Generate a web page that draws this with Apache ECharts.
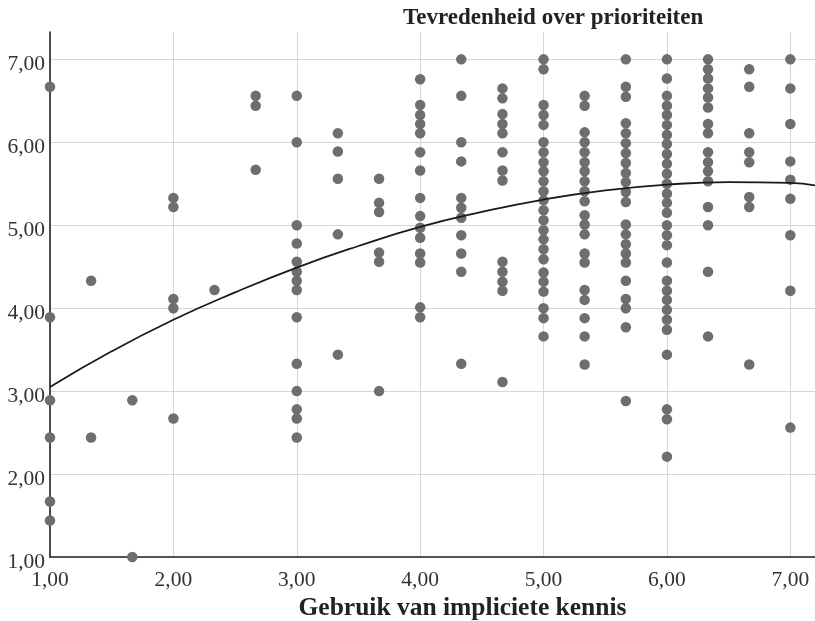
<!DOCTYPE html>
<html><head><meta charset="utf-8">
<script src="https://cdn.jsdelivr.net/npm/echarts@6/dist/echarts.min.js"></script>
<style>html,body{margin:0;padding:0;background:#fff}#c{width:815px;height:621px}</style>
</head><body><div id="c"></div>
<script>
const chartTitle = 'Tevredenheid over prioriteiten';
const xAxisTitle = 'Gebruik van impliciete kennis';
const xTickValues = [1, 2, 3, 4, 5, 6, 7];
const xTickLabels = ['1,00', '2,00', '3,00', '4,00', '5,00', '6,00', '7,00'];
const yTickValues = [1, 2, 3, 4, 5, 6, 7];
const yTickLabels = ['1,00', '2,00', '3,00', '4,00', '5,00', '6,00', '7,00'];

// x positions of the point columns
const columnX = [1, 1.333, 1.667, 2, 2.333, 2.667, 3, 3.333, 3.667, 4, 4.333, 4.667, 5, 5.333, 5.667, 6, 6.333, 6.667, 7];
// y values per column
const yAtX1_00 = [6.67, 3.89, 2.89, 2.44, 1.67, 1.44];
const yAtX1_33 = [4.33, 2.44];
const yAtX1_67 = [2.89, 1.00];
const yAtX2_00 = [5.33, 5.22, 4.11, 4.00, 2.67];
const yAtX2_33 = [4.22];
const yAtX2_67 = [6.56, 6.44, 5.67];
const yAtX3_00 = [6.56, 6.00, 5.00, 4.78, 4.56, 4.44, 4.33, 4.22, 3.89, 3.33, 3.00, 2.78, 2.67, 2.44];
const yAtX3_33 = [6.11, 5.89, 5.56, 4.89, 3.44];
const yAtX3_67 = [5.56, 5.27, 5.16, 4.67, 4.56, 3.00];
const yAtX4_00 = [6.76, 6.45, 6.33, 6.22, 6.11, 5.88, 5.66, 5.33, 5.11, 4.97, 4.85, 4.66, 4.55, 4.01, 3.89];
const yAtX4_33 = [7.00, 6.56, 6.00, 5.77, 5.33, 5.21, 5.09, 4.88, 4.66, 4.44, 3.33];
const yAtX4_67 = [6.65, 6.53, 6.34, 6.22, 6.11, 5.88, 5.66, 5.54, 4.56, 4.44, 4.32, 4.21, 3.11];
const yAtX5_00 = [7.00, 6.88, 6.45, 6.33, 6.21, 6.00, 5.88, 5.76, 5.65, 5.53, 5.41, 5.30, 5.18, 5.06, 4.94, 4.83, 4.71, 4.59, 4.43, 4.32, 4.20, 4.00, 3.88, 3.66];
const yAtX5_33 = [6.56, 6.44, 6.12, 6.00, 5.88, 5.76, 5.65, 5.53, 5.41, 5.29, 5.12, 5.01, 4.89, 4.66, 4.55, 4.22, 4.10, 3.88, 3.66, 3.32];
const yAtX5_67 = [7.00, 6.67, 6.55, 6.23, 6.11, 5.99, 5.87, 5.75, 5.63, 5.52, 5.40, 5.28, 5.01, 4.89, 4.77, 4.66, 4.55, 4.33, 4.11, 4.00, 3.77, 2.88];
const yAtX6_00 = [7.00, 6.77, 6.56, 6.44, 6.33, 6.21, 6.09, 5.98, 5.86, 5.74, 5.62, 5.50, 5.38, 5.27, 5.15, 5.00, 4.88, 4.76, 4.55, 4.33, 4.21, 4.10, 3.98, 3.86, 3.74, 3.44, 2.78, 2.66, 2.21];
const yAtX6_33 = [7.00, 6.88, 6.77, 6.65, 6.54, 6.42, 6.22, 6.11, 5.88, 5.76, 5.65, 5.53, 5.22, 5.00, 4.44, 3.66];
const yAtX6_67 = [6.88, 6.67, 6.11, 5.88, 5.76, 5.34, 5.22, 3.32];
const yAtX7_00 = [7.00, 6.65, 6.22, 5.77, 5.55, 5.32, 4.88, 4.21, 2.56];

// fitted curve
const fitX = [1, 1.5, 2, 2.5, 3, 3.5, 4, 4.5, 5, 5.5, 6, 6.5, 7, 7.2];
const fitY = [3.05, 3.48, 3.86, 4.19, 4.49, 4.75, 4.98, 5.16, 5.31, 5.42, 5.49, 5.52, 5.51, 5.48];

const columns = [yAtX1_00, yAtX1_33, yAtX1_67, yAtX2_00, yAtX2_33, yAtX2_67, yAtX3_00, yAtX3_33, yAtX3_67,
  yAtX4_00, yAtX4_33, yAtX4_67, yAtX5_00, yAtX5_33, yAtX5_67, yAtX6_00, yAtX6_33, yAtX6_67, yAtX7_00];
const points = [];
columns.forEach((col, i) => col.forEach(v => points.push([columnX[i], v])));
const fitLine = fitX.map((x, i) => [x, fitY[i]]);

const serif = '"Liberation Serif", "DejaVu Serif", serif';
function lab(values, labels) {
  return v => { const i = values.indexOf(Math.round(v * 1000) / 1000); return i >= 0 ? labels[i] : ''; };
}

const chart = echarts.init(document.getElementById('c'), null, {renderer: 'canvas'});
chart.setOption({
  animation: false,
  backgroundColor: '#ffffff',
  graphic: [{
    type: 'text', left: 403, top: 7,
    style: {text: chartTitle, font: 'bold 23px ' + serif, fill: '#222222'}
  }],
  grid: {left: 50, right: 0, top: 32, bottom: 64, containLabel: false, outerBoundsMode: 'none'},
  xAxis: {
    type: 'value', min: 1, max: 7.2, interval: 1,
    name: xAxisTitle, nameLocation: 'middle', nameGap: 38,
    nameTextStyle: {fontFamily: serif, fontWeight: 'bold', fontSize: 25.5, color: '#222222', padding: [0, 0, 0, 60]},
    axisLine: {show: true, lineStyle: {color: '#222222', width: 1.6}},
    axisTick: {show: false},
    axisLabel: {fontFamily: serif, fontSize: 21.5, color: '#333333', margin: 12, showMaxLabel: false,
      formatter: lab(xTickValues, xTickLabels)},
    splitLine: {show: true, showMaxLine: false, lineStyle: {color: '#d6d6d6', width: 1}}
  },
  yAxis: {
    type: 'value', min: 1, max: 7.33, interval: 1,
    axisLine: {show: true, lineStyle: {color: '#222222', width: 1.6}},
    axisTick: {show: false},
    axisLabel: {fontFamily: serif, fontSize: 21.5, color: '#333333', margin: 5, showMaxLabel: false,
      verticalAlign: 'top', lineHeight: 10, formatter: lab(yTickValues, yTickLabels)},
    splitLine: {show: true, showMaxLine: false, lineStyle: {color: '#d6d6d6', width: 1}}
  },
  series: [{
    type: 'scatter', data: points, symbol: 'circle', symbolSize: 10.5,
    itemStyle: {color: '#6e6e6e', opacity: 1}, z: 2
  }, {
    type: 'line', data: fitLine, smooth: true, showSymbol: false, symbol: 'none',
    lineStyle: {color: '#1a1a1a', width: 1.8}, z: 3, clip: true
  }]
});
</script></body></html>
